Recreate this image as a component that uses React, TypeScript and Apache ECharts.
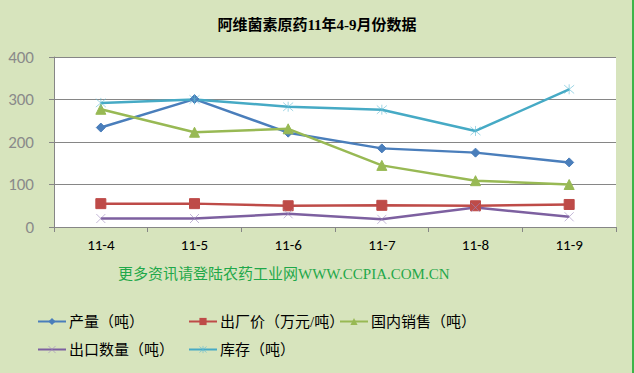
import React, { useEffect, useRef } from "react";
import * as echarts from "echarts";

const categories = ["11-4", "11-5", "11-6", "11-7", "11-8", "11-9"];
const yTicks = [0, 100, 200, 300, 400];
const production = [234, 301, 222, 185, 175, 152];
const price = [55, 55, 50, 51, 50, 53];
const domesticSales = [277, 223, 231, 145, 109, 100];
const exportQty = [20, 20, 31, 18, 46, 24];
const stock = [292, 300, 283, 276, 226, 324];

const names = ["产量（吨）", "出厂价（万元/吨）", "国内销售（吨）", "出口数量（吨）", "库存（吨）"];
const colors = ["#4A7EBB", "#BE4B48", "#98B954", "#7D60A0", "#46AAC5"];
const markerColors = ["#4A7EBB", "#BE4B48", "#98B954", "#9C86BC", "#5FBAD3"];
const seriesData = [production, price, domesticSales, exportQty, stock];
const symbols = [
  "diamond",
  "rect",
  "triangle",
  "path://M0,0L10,10M10,0L0,10",
  "path://M0,0L10,10M10,0L0,10M5,-1L5,11",
];
const symbolSizes = [9, 10, 10, 9, 10];

export default function App() {
  const ref = useRef<HTMLDivElement>(null);
  useEffect(() => {
    const chart = echarts.init(ref.current!, null, { renderer: "svg" });
    const legendPos = [
      { left: 37, top: 314 },
      { left: 188, top: 314 },
      { left: 339, top: 314 },
      { left: 37, top: 342 },
      { left: 188, top: 342 },
    ];
    const markerStyle = (i: number) =>
      i >= 3
        ? { color: "none", borderColor: markerColors[i], borderWidth: 0.6 }
        : { color: colors[i], borderColor: colors[i] };
    chart.setOption({
      animation: false,
      backgroundColor: "#D7E4BD",
      title: {
        text: "阿维菌素原药11年4-9月份数据",
        left: "center",
        top: 12,
        textStyle: {
          fontFamily: "'Liberation Serif', 'Noto Sans CJK SC', serif",
          fontSize: 15,
          fontWeight: "bold",
          color: "#000",
        },
      },
      graphic: [
        {
          type: "text",
          left: 118,
          top: 266,
          style: {
            text: "更多资讯请登陆农药工业网WWW.CCPIA.COM.CN",
            fill: "#1FA84A",
            font: "15px 'Liberation Serif', 'Noto Sans CJK SC', serif",
          },
        },
        {
          type: "rect",
          shape: { x: 632, y: 0, width: 2, height: 373 },
          style: { fill: "#3DB54A" },
        },
      ],
      legend: names.map((n, i) => ({
        data: [{ name: n, itemStyle: markerStyle(i) }],
        left: legendPos[i].left,
        top: legendPos[i].top,
        itemWidth: 28,
        itemHeight: 9,
        itemGap: 0,
        padding: 0,
        textStyle: {
          fontSize: 15,
          color: "#000",
          fontFamily: "'Liberation Serif', 'Noto Sans CJK SC', serif",
          padding: [0, 0, 0, -2],
        },
      })),
      grid: {
        left: 54,
        right: 18,
        top: 57,
        bottom: 146,
        show: true,
        backgroundColor: "#FFFFFF",
        borderWidth: 0,
      },
      xAxis: {
        type: "category",
        data: categories,
        boundaryGap: true,
        axisLine: { lineStyle: { color: "#868686", width: 1 } },
        axisTick: { show: true, length: 5, lineStyle: { color: "#868686" } },
        axisLabel: {
          color: "#000",
          fontSize: 15,
          margin: 10,
          fontFamily: "Carlito, 'Liberation Sans', sans-serif",
        },
      },
      yAxis: {
        type: "value",
        min: 0,
        max: 400,
        interval: 100,
        axisLine: { show: true, lineStyle: { color: "#868686" } },
        axisTick: { show: true, length: 5, lineStyle: { color: "#868686" } },
        splitLine: { lineStyle: { color: "#868686", width: 1 } },
        axisLabel: {
          color: "#8A8A8A",
          fontSize: 17,
          margin: 20,
          fontFamily: "Carlito, 'Liberation Sans', sans-serif",
          formatter: (v: number) => (yTicks.includes(v) ? String(v) : ""),
        },
      },
      series: names.map((n, i) => ({
        name: n,
        type: "line",
        data: seriesData[i],
        symbol: symbols[i],
        symbolSize: symbolSizes[i],
        showAllSymbol: true,
        lineStyle: { color: colors[i], width: 2.5 },
        itemStyle: markerStyle(i),
      })),
    });
    return () => chart.dispose();
  }, []);
  return <div ref={ref} style={{ width: 634, height: 373, position: "fixed", left: 0, top: 0 }} />;
}
